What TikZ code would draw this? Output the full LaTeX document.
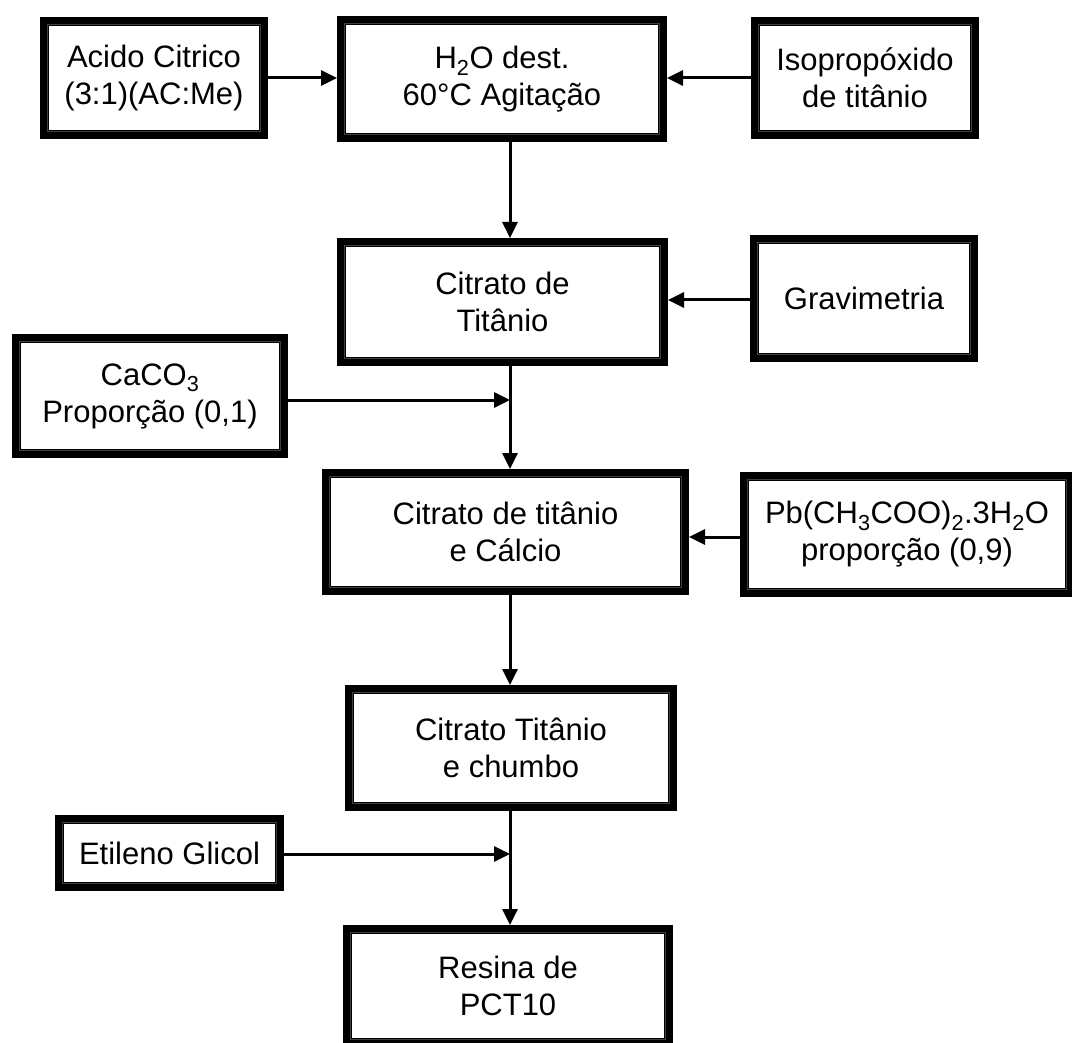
\documentclass[tikz,border=0pt]{standalone}
\usepackage{fontspec}
\setmainfont{Liberation Sans}
\usetikzlibrary{arrows.meta}
\tikzset{
  flowbox/.style={draw=black, line width=9pt, fill=white, inner sep=0pt, align=center,
    font=\fontsize{31}{37}\selectfont},
  innerline/.style={draw=black!75, line width=1.6pt},
  conn/.style={draw=black, line width=3pt, -{Triangle[length=16pt,width=15pt]}},
  plainline/.style={draw=black, line width=3pt},
}
\begin{document}
\begin{tikzpicture}[x=1pt,y=-1pt]
\useasboundingbox (0,0) rectangle (1072,1043);
\node[flowbox, minimum width=219pt, minimum height=113pt] (acido) at (154,78) {Acido Citrico\\(3:1)(AC:Me)};
\node[flowbox, minimum width=321pt, minimum height=117pt] (agua) at (502,79) {H\textsubscript{2}O dest.\\60°C Agitação};
\node[flowbox, minimum width=219pt, minimum height=113pt] (iso) at (865,78) {Isopropóxido\\de titânio};
\node[flowbox, minimum width=322pt, minimum height=119pt] (citti) at (502.5,302) {Citrato de\\Titânio};
\node[flowbox, minimum width=219pt, minimum height=118pt] (grav) at (864,298.5) {Gravimetria};
\node[flowbox, minimum width=267pt, minimum height=115pt] (caco) at (150,396) {CaCO\textsubscript{3}\\Proporção (0,1)};
\node[flowbox, minimum width=358pt, minimum height=117pt] (citca) at (505.5,532) {Citrato de titânio\\e Cálcio};
\node[flowbox, minimum width=325pt, minimum height=116pt] (pb) at (907,534.5) {Pb(CH\textsubscript{3}COO)\textsubscript{2}.3H\textsubscript{2}O\\proporção (0,9)};
\node[flowbox, minimum width=323pt, minimum height=117pt] (chumbo) at (511,748) {Citrato Titânio\\e chumbo};
\node[flowbox, minimum width=220pt, minimum height=67pt] (etil) at (169.5,853) {Etileno Glicol};
\node[flowbox, minimum width=321pt, minimum height=113pt] (resina) at (508,986) {Resina de\\PCT10};
\foreach \n in {acido,agua,iso,citti,grav,caco,citca,pb,chumbo,etil,resina}{
  \draw[innerline] ([shift={(7.5pt,-7.5pt)}]\n.north west) rectangle ([shift={(-7.5pt,7.5pt)}]\n.south east);
}
\coordinate (vx) at (510,0);
\coordinate (jca) at (510,400);
\coordinate (jet) at (510,854);
\draw[conn] (acido.east) -- (acido.east -| agua.west);
\draw[conn] (iso.west |- 0,78) -- (agua.east |- 0,78);
\draw[conn] (agua.south -| vx) -- (citti.north -| vx);
\draw[conn] (grav.west |- 0,300) -- (citti.east |- 0,300);
\draw[plainline] (citti.south -| vx) -- (jca);
\draw[conn] (jca) -- (citca.north -| vx);
\draw[conn] (caco.east |- jca) -- (jca);
\draw[conn] (pb.west |- 0,537) -- (citca.east |- 0,537);
\draw[conn] (citca.south -| vx) -- (chumbo.north -| vx);
\draw[plainline] (chumbo.south -| vx) -- (jet);
\draw[conn] (jet) -- (resina.north -| vx);
\draw[conn] (etil.east |- jet) -- (jet);
\end{tikzpicture}
\end{document}
